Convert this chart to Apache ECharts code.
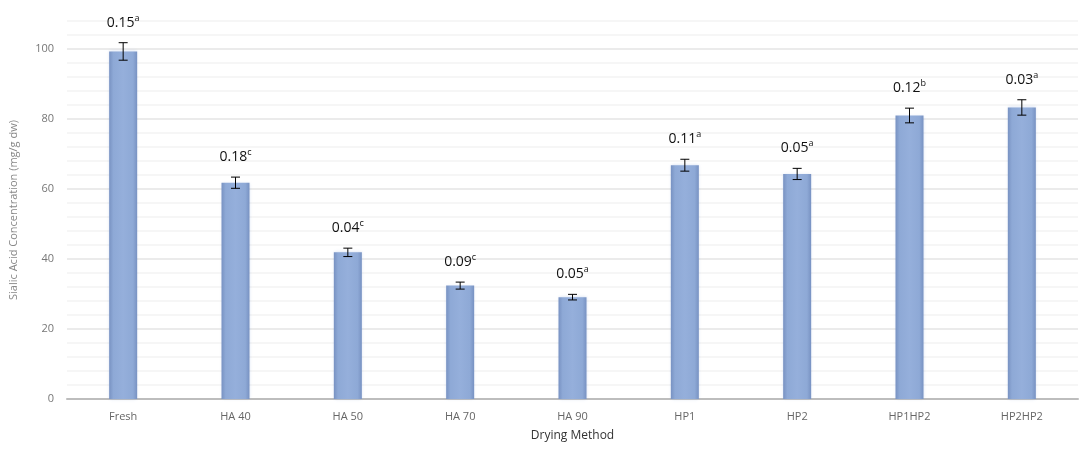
<!DOCTYPE html>
<html><head><meta charset="utf-8">
<script src="https://cdn.jsdelivr.net/npm/echarts@6/dist/echarts.min.js"></script>
<style>html,body{margin:0;padding:0;background:#fff}#c{width:1080px;height:452px}</style>
</head><body><div id="c"></div>
<script>
var categories = ['Fresh','HA 40','HA 50','HA 70','HA 90','HP1','HP2','HP1HP2','HP2HP2'];
var means = [99.3, 61.8, 41.9, 32.4, 29.1, 66.8, 64.3, 81.0, 83.3];
var errors = [2.5, 1.6, 1.2, 1.0, 0.8, 1.7, 1.6, 2.1, 2.2];
var labelValues = ['0.15','0.18','0.04','0.09','0.05','0.11','0.05','0.12','0.03'];
var letters = ['a','c','c','c','a','a','a','b','a'];
var yTicks = [0, 20, 40, 60, 80, 100];

var chart = echarts.init(document.getElementById('c'));
var errData = categories.map(function (c, i) { return [i, means[i] - errors[i], means[i] + errors[i]]; });
var FONT = '"Open Sans", "Noto Sans", sans-serif';

chart.setOption({
  animation: false,
  grid: { left: 65, right: 2, top: 21, bottom: 53 },
  xAxis: {
    type: 'category', data: categories,
    name: 'Drying Method', nameLocation: 'middle', nameGap: 31,
    nameTextStyle: { color: '#333', fontSize: 12, fontFamily: FONT },
    axisLine: { lineStyle: { color: '#bdbdbd', width: 2 } },
    axisTick: { show: false },
    axisLabel: { color: '#666', fontSize: 11, fontFamily: FONT, margin: 12 }
  },
  yAxis: {
    type: 'value', min: 0, max: 108, interval: 4,
    name: 'Sialic Acid Concentration (mg/g dw)', nameLocation: 'middle', nameGap: 48,
    nameTextStyle: { color: '#888', fontSize: 11, fontFamily: FONT },
    axisLine: { show: false },
    axisTick: { show: false },
    axisLabel: {
      color: '#777', fontSize: 11, fontFamily: FONT, margin: 13,
      formatter: function (v) { return yTicks.indexOf(v) >= 0 ? String(v) : ''; }
    },
    splitLine: { lineStyle: { color: ['#e4e4e4', '#f3f3f3', '#f3f3f3', '#f3f3f3', '#f3f3f3'], width: 1.5 } }
  },
  series: [
    {
      type: 'bar', data: means, barWidth: 28,
      itemStyle: {
        color: new echarts.graphic.LinearGradient(0, 0, 1, 0, [
          { offset: 0, color: '#7892c2' },
          { offset: 0.15, color: '#8ea9d6' },
          { offset: 0.5, color: '#95afdb' },
          { offset: 0.85, color: '#8ea9d6' },
          { offset: 1, color: '#7892c2' }
        ]),
        shadowColor: 'rgba(130,160,215,0.35)', shadowBlur: 3
      }
    },
    {
      type: 'custom', data: errData, z: 10,
      renderItem: function (params, api) {
        var i = api.value(0);
        var lo = api.coord([i, api.value(1)]);
        var hi = api.coord([i, api.value(2)]);
        var x = lo[0], hw = 4.5;
        return {
          type: 'group', children: [
            { type: 'line', shape: { x1: x, y1: lo[1], x2: x, y2: hi[1] }, style: { stroke: '#000', lineWidth: 1 } },
            { type: 'line', shape: { x1: x - hw, y1: lo[1], x2: x + hw, y2: lo[1] }, style: { stroke: '#000', lineWidth: 1 } },
            { type: 'line', shape: { x1: x - hw, y1: hi[1], x2: x + hw, y2: hi[1] }, style: { stroke: '#000', lineWidth: 1 } },
            {
              type: 'text',
              style: {
                x: x, y: hi[1] - 11, align: 'center', verticalAlign: 'bottom',
                text: '{v|' + labelValues[i] + '}{s|' + letters[i] + '}',
                rich: {
                  v: { fontSize: 14, fontFamily: FONT, fill: '#111', lineHeight: 18 },
                  s: { fontSize: 9, fontFamily: FONT, fill: '#111', lineHeight: 18, verticalAlign: 'top', padding: [0, 0, 6, 0] }
                }
              }
            }
          ]
        };
      }
    }
  ]
});
</script></body></html>
